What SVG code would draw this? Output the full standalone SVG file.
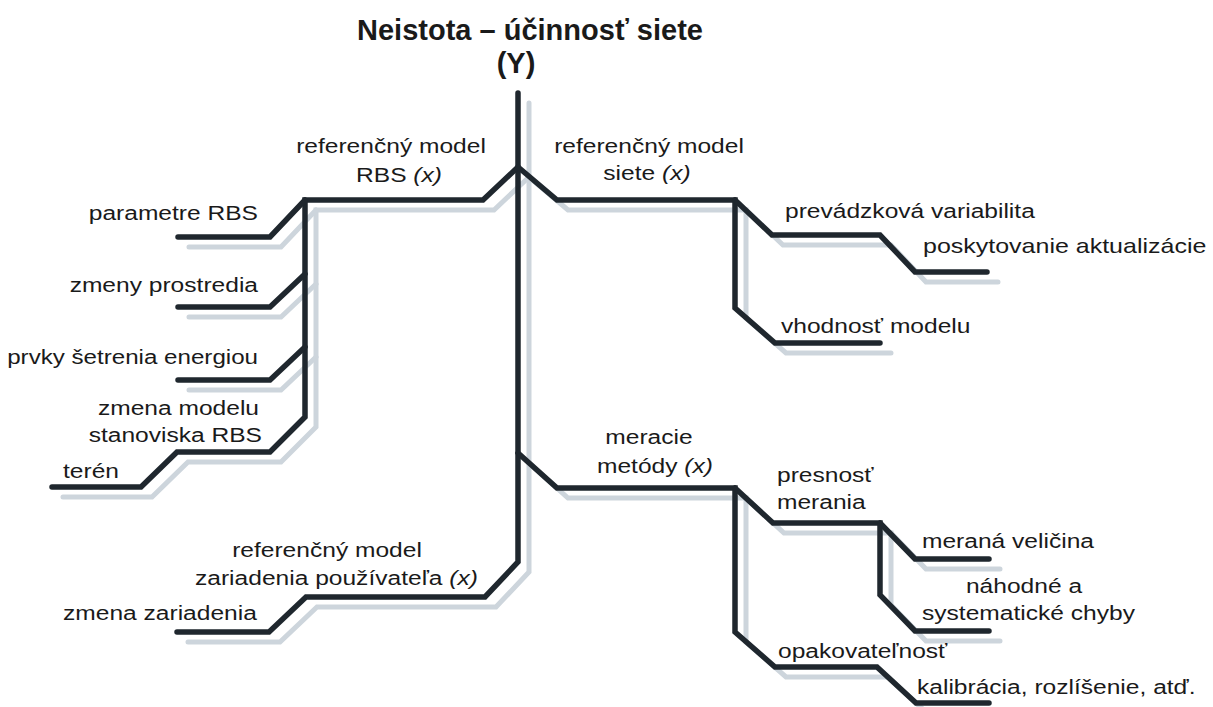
<svg xmlns="http://www.w3.org/2000/svg" width="1213" height="707" viewBox="0 0 1213 707">
  <style>
    .bone { fill: none; stroke: #1f272e; stroke-width: 5.5; stroke-linecap: round; stroke-linejoin: miter; }
    .shade { fill: none; stroke: #cdd5dc; stroke-width: 5; stroke-linecap: round; stroke-linejoin: miter; }
    text { font-family: "Liberation Sans", Arial, sans-serif; font-size: 21px; fill: #1a1a1a; }
    .title { font-size: 29px; font-weight: bold; }
    .em { font-style: italic; }
  </style>
  <defs>
    <!-- the fishbone skeleton, drawn once for the shadow and once on top -->
    <g id="skeleton">
      <!-- spine and the lower-left user-device branch -->
      <path d="M518,93 V562 L485,597 H306 L269,632 H177"/>
      <!-- RBS reference model branch -->
      <path d="M518,167 L483,200 H305 V417 L270,452 H177 L141,487 H52"/>
      <path d="M305,200 L270,237 H178"/>
      <path d="M305,274 L270,307 H178"/>
      <path d="M305,347 L270,380 H178"/>
      <!-- network reference model branch -->
      <path d="M518,167 L557,200 H735 V308 L775,343 H880"/>
      <path d="M735,200 L772,235 H880 L915,272 H987"/>
      <!-- measurement methods branch -->
      <path d="M518,453 L557,488 H735 V632 L775,667 H877 L916,703 H989"/>
      <path d="M735,488 L773,523 H880 V595 L915,631 H989"/>
      <path d="M880,523 L915,559 H989"/>
    </g>
  </defs>

  <g id="connectors">
    <use href="#skeleton" class="shade" transform="translate(11 10)"/>
    <use href="#skeleton" class="bone"/>
  </g>

  <g id="effect">
    <text class="title" text-anchor="middle" x="530" y="40">Neistota – účinnosť siete</text>
    <text class="title" text-anchor="middle" x="516" y="73">(Y)</text>
  </g>

  <g id="rbs-model">
    <text text-anchor="middle" transform="translate(391 153) scale(1.17 1)">referenčný model</text>
    <text text-anchor="middle" transform="translate(399 182) scale(1.17 1)">RBS <tspan class="em">(x)</tspan></text>
  </g>
  <g id="rbs-parameters">
    <text text-anchor="end" transform="translate(258 220) scale(1.17 1)">parametre RBS</text>
  </g>
  <g id="environment-changes">
    <text text-anchor="end" transform="translate(258 292) scale(1.17 1)">zmeny prostredia</text>
  </g>
  <g id="energy-saving">
    <text text-anchor="end" transform="translate(258 364) scale(1.15 1)">prvky šetrenia energiou</text>
  </g>
  <g id="site-model-change">
    <text text-anchor="end" transform="translate(259 415) scale(1.17 1)">zmena modelu</text>
    <text text-anchor="end" transform="translate(262 442) scale(1.17 1)">stanoviska RBS</text>
  </g>
  <g id="terrain">
    <text transform="translate(63 478) scale(1.17 1)">terén</text>
  </g>

  <g id="network-model">
    <text text-anchor="middle" transform="translate(649 153) scale(1.17 1)">referenčný model</text>
    <text text-anchor="middle" transform="translate(647 180) scale(1.17 1)">siete <tspan class="em">(x)</tspan></text>
  </g>
  <g id="operational-variability">
    <text transform="translate(785 218) scale(1.17 1)">prevádzková variabilita</text>
  </g>
  <g id="update-provision">
    <text transform="translate(923 253) scale(1.19 1)">poskytovanie aktualizácie</text>
  </g>
  <g id="model-suitability">
    <text transform="translate(781 333) scale(1.17 1)">vhodnosť modelu</text>
  </g>

  <g id="measurement-methods">
    <text text-anchor="middle" transform="translate(649 444) scale(1.17 1)">meracie</text>
    <text text-anchor="middle" transform="translate(655 473) scale(1.17 1)">metódy <tspan class="em">(x)</tspan></text>
  </g>
  <g id="measurement-accuracy">
    <text transform="translate(777 482) scale(1.17 1)">presnosť</text>
    <text transform="translate(777 509) scale(1.17 1)">merania</text>
  </g>
  <g id="measurand">
    <text transform="translate(922 548) scale(1.17 1)">meraná veličina</text>
  </g>
  <g id="errors">
    <text text-anchor="middle" transform="translate(1024 593) scale(1.17 1)">náhodné a</text>
    <text transform="translate(922 620) scale(1.17 1)">systematické chyby</text>
  </g>
  <g id="repeatability">
    <text transform="translate(778 658) scale(1.17 1)">opakovateľnosť</text>
  </g>
  <g id="calibration">
    <text transform="translate(917 694) scale(1.17 1)">kalibrácia, rozlíšenie, atď.</text>
  </g>

  <g id="user-device-model">
    <text text-anchor="middle" transform="translate(327 557) scale(1.17 1)">referenčný model</text>
    <text transform="translate(195 585) scale(1.17 1)">zariadenia používateľa <tspan class="em">(x)</tspan></text>
  </g>
  <g id="device-change">
    <text transform="translate(63 620) scale(1.17 1)">zmena zariadenia</text>
  </g>
</svg>
